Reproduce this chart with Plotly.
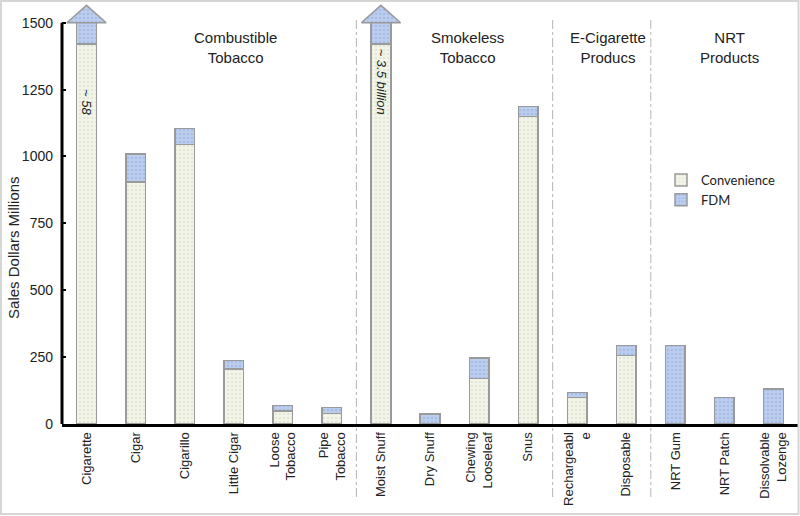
import plotly.graph_objects as go

categories = ["Cigarette", "Cigar", "Cigarillo", "Little Cigar", "Loose<br>Tobacco", "Pipe<br>Tobacco",
              "Moist Snuff", "Dry Snuff", "Chewing<br>Looseleaf", "Snus",
              "Rechargeabl<br>e", "Disposable",
              "NRT Gum", "NRT Patch", "Dissolvable<br>Lozenge"]
convenience = [1420, 905, 1045, 205, 48, 40, 1420, 0, 170, 1150, 100, 257, 0, 0, 0]
fdm = [80, 105, 60, 32, 22, 22, 80, 38, 77, 37, 17, 36, 293, 100, 130]
truncated = {0: "~ 58", 6: "~ 3.5 billion"}
truncated_label_y = {0: 1205, 6: 1280}
groups = [("Combustible<br>Tobacco", 3.04), ("Smokeless<br>Tobacco", 7.76),
          ("E-Cigarette<br>Producs", 10.62), ("NRT<br>Products", 13.1)]
dividers = [5.5, 9.5, 11.5]
yticks = [0, 250, 500, 750, 1000, 1250, 1500]

W, H = 800, 516
ML, MR, MT, MB = 62, 2, 4, 92
YMAX_AXIS = 1500
YRANGE = [0, 1570]
ARROW_TIP = 1565

x = list(range(len(categories)))
FONT = "Liberation Sans, Arial, sans-serif"

conv_color = "#f3f5ea"
conv_dot = "#cfd6bf"
fdm_color = "#bccdee"
fdm_dot = "#8ea9db"
edge = "#9a9a9a"

fig = go.Figure()
fig.add_trace(go.Bar(
    x=x, y=convenience, name="Convenience", width=0.4,
    marker=dict(color=conv_color, line=dict(color=edge, width=1.5),
                pattern=dict(shape=".", bgcolor=conv_color, fgcolor=conv_dot, size=4, solidity=0.3)),
))
fig.add_trace(go.Bar(
    x=x, y=fdm, name="FDM", width=0.4,
    marker=dict(color=fdm_color, line=dict(color=edge, width=1.5),
                pattern=dict(shape=".", bgcolor=fdm_color, fgcolor=fdm_dot, size=4, solidity=0.3)),
))

# arrow heads on truncated bars
for i in truncated:
    top = convenience[i] + fdm[i]
    fig.add_trace(go.Scatter(
        x=[i - 0.4, i, i + 0.4, i - 0.4], y=[top, ARROW_TIP, top, top],
        mode="lines", fill="toself", fillcolor=fdm_color,
        fillpattern=dict(shape=".", bgcolor=fdm_color, fgcolor=fdm_dot, size=4, solidity=0.3),
        line=dict(color=edge, width=1.5), showlegend=False, hoverinfo="skip",
    ))

plot_h = H - MT - MB
plot_w = W - ML - MR

annotations = []
for i, txt in truncated.items():
    annotations.append(dict(
        x=i, y=truncated_label_y[i], xref="x", yref="y", text="<i>" + txt + "</i>",
        textangle=90, showarrow=False, font=dict(family=FONT, size=13, color="#222"),
    ))
for txt, gx in groups:
    annotations.append(dict(
        x=gx, y=1408, xref="x", yref="y", text=txt, showarrow=False,
        font=dict(family=FONT, size=15, color="#222"), align="center",
    ))
annotations.append(dict(
    x=(14 - ML) / plot_w, y=658, xref="paper", yref="y", text="Sales Dollars Millions",
    xanchor="center", yanchor="middle",
    textangle=-90, showarrow=False, font=dict(family=FONT, size=15, color="#222"),
))

shapes = []
for d in dividers:
    shapes.append(dict(type="line", xref="x", yref="paper", x0=d, x1=d,
                       y0=-(497 - (H - MB)) / plot_h, y1=(H - MB - 18) / plot_h,
                       line=dict(color="#b5b5b5", width=1, dash="dashdot"), layer="below"))
# y axis line up to 1500
shapes.append(dict(type="line", xref="paper", yref="y", x0=0, x1=0, y0=0, y1=YMAX_AXIS,
                   line=dict(color="black", width=3)))
# outer frame
shapes.append(dict(type="rect", xref="paper", yref="paper",
                   x0=(1 - ML) / plot_w, x1=(W - 1.5 - ML) / plot_w,
                   y0=-(514 - (H - MB)) / plot_h, y1=(H - MB - 1) / plot_h,
                   line=dict(color="#d6d6d6", width=2)))

fig.update_layout(
    width=W, height=H, margin=dict(l=ML, r=MR, t=MT, b=MB),
    barmode="stack", bargap=0.6,
    plot_bgcolor="white", paper_bgcolor="white",
    font=dict(family=FONT, size=13, color="#222"),
    showlegend=True,
    legend=dict(x=(661 - ML) / plot_w, y=(H - MB - 165) / plot_h, xanchor="left", yanchor="top",
                traceorder="normal", font=dict(family="Lato, Carlito, sans-serif", size=13, color="#222"),
                bgcolor="rgba(0,0,0,0)", itemwidth=30),
    annotations=annotations, shapes=shapes,
)
fig.update_xaxes(range=[-0.5, len(categories) - 0.5], tickvals=x, ticktext=categories,
                 tickangle=-90, showline=True, linecolor="black", linewidth=3,
                 ticks="", showgrid=False, zeroline=False, tickfont=dict(size=13))
fig.update_yaxes(range=YRANGE, tickvals=yticks, showline=False, ticks="inside", ticklen=4,
                 tickwidth=2, tickcolor="black", showgrid=False, zeroline=False,
                 ticklabelstandoff=8, tickfont=dict(size=14))

fig.write_html("out.html", config={"displayModeBar": False},
               post_script="document.body.style.margin='0';document.body.style.overflow='hidden';")
